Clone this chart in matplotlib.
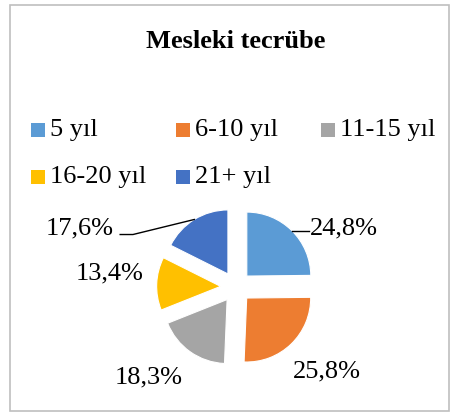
import numpy as np
import matplotlib
matplotlib.use("Agg")
import matplotlib.pyplot as plt
from matplotlib.patches import Rectangle

# data
categories = ["5 yıl", "6-10 yıl", "11-15 yıl", "16-20 yıl", "21+ yıl"]
shares = [24.8, 25.8, 18.3, 13.4, 17.6]
colors = ["#5B9BD5", "#ED7D31", "#A5A5A5", "#FFC000", "#4472C4"]
title = "Mesleki tecrübe"

# label centres in pie units (radius = 1)
label_xy = [(1.69, 0.92), (1.42, -1.32), (-1.36, -1.41), (-1.97, 0.21), (-2.44, 0.92)]
explode = 0.24
fs = 19

W, H = 450, 413
plt.rcParams["font.family"] = ["Liberation Serif", "DejaVu Serif"]

fig = plt.figure(figsize=(W / 100, H / 100), dpi=100)

def fx(x):
    return x / W

def fy(y):
    return 1 - y / H

# chart frame
fig.patches.append(Rectangle((fx(10), fy(411)), fx(449) - fx(10), fy(5) - fy(411),
                             transform=fig.transFigure, fill=False,
                             edgecolor="#BFBFBF", linewidth=1.2))

fig.text(fx(236), fy(42), title, ha="center", va="center",
         fontsize=fs, fontweight="bold")

# legend, drawn by hand so the columns are equal width like Excel
for i, (lab, col) in enumerate(zip(categories, colors)):
    c, r = i % 3, i // 3
    x0 = 31 + c * 145
    yc = 130 + r * 47
    fig.patches.append(Rectangle((fx(x0), fy(yc + 7)), fx(14), 14 / H,
                                 transform=fig.transFigure, facecolor=col,
                                 edgecolor="none"))
    fig.text(fx(x0 + 19), fy(yc), lab, ha="left", va="center", fontsize=fs)

# pie: centre (236, 287) px, 64 px per unit
cx, cy, scale = 236, 287, 64
half = 100
ax = fig.add_axes([fx(cx - half), fy(cy + half), 2 * half / W, 2 * half / H])
ax.pie(shares, colors=colors, startangle=90, counterclock=False,
       explode=[explode] * len(shares), radius=1,
       wedgeprops=dict(edgecolor="white", linewidth=0.8))
lim = half / scale
ax.set_xlim(-lim, lim)
ax.set_ylim(-lim, lim)
ax.set_aspect("equal")
ax.axis("off")

total = sum(shares)
cum = np.cumsum(shares)
mids = np.deg2rad(90 - 360 * (cum - np.array(shares) / 2) / total)

for i, v in enumerate(shares):
    lx, ly = label_xy[i]
    txt = f"{v:.1f}%".replace(".", ",")
    ax.text(lx, ly, txt, ha="center", va="center", fontsize=fs, clip_on=False)

# leader lines for the labels that sit away from their slice
for i in (0, 4):
    px = (explode + 1) * np.cos(mids[i])
    py = (explode + 1) * np.sin(mids[i])
    lx, ly = label_xy[i]
    if lx > 0:
        x1 = lx - 0.55
        xs, ys = [px, x1], [py, py]
    else:
        x1 = lx + 0.83
        xs, ys = [px, x1, x1 - 0.2], [py, ly - 0.1, ly - 0.1]
    ax.plot(xs, ys, color="black", linewidth=1, clip_on=False)

fig.savefig("out.png", dpi=100)
